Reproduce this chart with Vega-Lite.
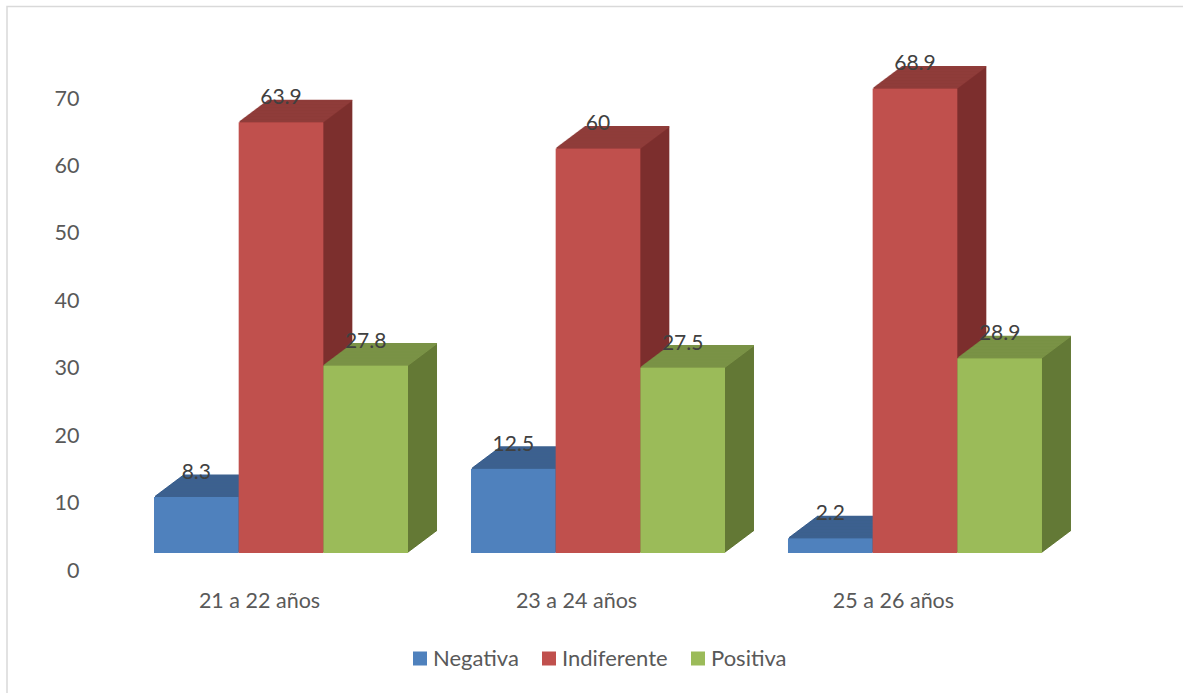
{"$schema":"https://vega.github.io/schema/vega-lite/v6.json","width":1177,"height":689,"autosize":"none","padding":{"left":7,"top":6.5,"right":0,"bottom":0},"background":"white","config":{"view":{"stroke":"#D9D9D9","strokeWidth":1.5},"font":"Lato"},"data":{"values":[{"grupo":"21 a 22 años","serie":"Negativa","valor":8.3},{"grupo":"21 a 22 años","serie":"Indiferente","valor":63.9},{"grupo":"21 a 22 años","serie":"Positiva","valor":27.8},{"grupo":"23 a 24 años","serie":"Negativa","valor":12.5},{"grupo":"23 a 24 años","serie":"Indiferente","valor":60},{"grupo":"23 a 24 años","serie":"Positiva","valor":27.5},{"grupo":"25 a 26 años","serie":"Negativa","valor":2.2},{"grupo":"25 a 26 años","serie":"Indiferente","valor":68.9},{"grupo":"25 a 26 años","serie":"Positiva","valor":28.9}]},"encoding":{"x":{"field":"grupo","type":"nominal","title":null,"scale":{"range":[115.5,1066.5],"paddingInner":0.1987,"paddingOuter":0.0994},"axis":{"orient":"bottom","offset":-105,"domain":false,"ticks":false,"labelAngle":0,"labelPadding":0,"labelOffset":-21.5,"labelFontSize":21.5,"labelColor":"#595959","labelBaseline":"top"}},"xOffset":{"field":"serie","type":"nominal","sort":["Negativa","Indiferente","Positiva"],"scale":{"paddingInner":0,"paddingOuter":0}},"y":{"field":"valor","type":"quantitative","stack":null,"title":null,"scale":{"domain":[0,70],"range":[546.5,74.5],"nice":false},"axis":{"orient":"left","offset":-72,"domain":false,"ticks":false,"grid":false,"values":[0,10,20,30,40,50,60,70],"labelPadding":0,"labelOffset":18,"labelFontSize":21.5,"labelColor":"#595959"}}},"resolve":{"scale":{"xOffset":"independent"}},"layer":[{"resolve":{"scale":{"xOffset":"independent"}},"encoding":{"y2":{"datum":0},"fill":{"field":"serie","type":"nominal","legend":null,"scale":{"domain":["Indiferente","Negativa","Positiva"],"range":["#7D2F2E","#335077","#647936"]}}},"layer":[
{"mark":{"type":"bar","yOffset":-21.75,"y2Offset":-21.75},"encoding":{"xOffset":{"field":"serie","sort":["Negativa","Indiferente","Positiva"],"scale":{"range":[29,283],"paddingInner":0,"paddingOuter":0}}}},
{"mark":{"type":"bar","yOffset":-21,"y2Offset":-21},"encoding":{"xOffset":{"field":"serie","sort":["Negativa","Indiferente","Positiva"],"scale":{"range":[28,282],"paddingInner":0,"paddingOuter":0}}}},
{"mark":{"type":"bar","yOffset":-20.25,"y2Offset":-20.25},"encoding":{"xOffset":{"field":"serie","sort":["Negativa","Indiferente","Positiva"],"scale":{"range":[27,281],"paddingInner":0,"paddingOuter":0}}}},
{"mark":{"type":"bar","yOffset":-19.5,"y2Offset":-19.5},"encoding":{"xOffset":{"field":"serie","sort":["Negativa","Indiferente","Positiva"],"scale":{"range":[26,280],"paddingInner":0,"paddingOuter":0}}}},
{"mark":{"type":"bar","yOffset":-18.75,"y2Offset":-18.75},"encoding":{"xOffset":{"field":"serie","sort":["Negativa","Indiferente","Positiva"],"scale":{"range":[25,279],"paddingInner":0,"paddingOuter":0}}}},
{"mark":{"type":"bar","yOffset":-18,"y2Offset":-18},"encoding":{"xOffset":{"field":"serie","sort":["Negativa","Indiferente","Positiva"],"scale":{"range":[24,278],"paddingInner":0,"paddingOuter":0}}}},
{"mark":{"type":"bar","yOffset":-17.25,"y2Offset":-17.25},"encoding":{"xOffset":{"field":"serie","sort":["Negativa","Indiferente","Positiva"],"scale":{"range":[23,277],"paddingInner":0,"paddingOuter":0}}}},
{"mark":{"type":"bar","yOffset":-16.5,"y2Offset":-16.5},"encoding":{"xOffset":{"field":"serie","sort":["Negativa","Indiferente","Positiva"],"scale":{"range":[22,276],"paddingInner":0,"paddingOuter":0}}}},
{"mark":{"type":"bar","yOffset":-15.75,"y2Offset":-15.75},"encoding":{"xOffset":{"field":"serie","sort":["Negativa","Indiferente","Positiva"],"scale":{"range":[21,275],"paddingInner":0,"paddingOuter":0}}}},
{"mark":{"type":"bar","yOffset":-15,"y2Offset":-15},"encoding":{"xOffset":{"field":"serie","sort":["Negativa","Indiferente","Positiva"],"scale":{"range":[20,274],"paddingInner":0,"paddingOuter":0}}}},
{"mark":{"type":"bar","yOffset":-14.25,"y2Offset":-14.25},"encoding":{"xOffset":{"field":"serie","sort":["Negativa","Indiferente","Positiva"],"scale":{"range":[19,273],"paddingInner":0,"paddingOuter":0}}}},
{"mark":{"type":"bar","yOffset":-13.5,"y2Offset":-13.5},"encoding":{"xOffset":{"field":"serie","sort":["Negativa","Indiferente","Positiva"],"scale":{"range":[18,272],"paddingInner":0,"paddingOuter":0}}}},
{"mark":{"type":"bar","yOffset":-12.75,"y2Offset":-12.75},"encoding":{"xOffset":{"field":"serie","sort":["Negativa","Indiferente","Positiva"],"scale":{"range":[17,271],"paddingInner":0,"paddingOuter":0}}}},
{"mark":{"type":"bar","yOffset":-12,"y2Offset":-12},"encoding":{"xOffset":{"field":"serie","sort":["Negativa","Indiferente","Positiva"],"scale":{"range":[16,270],"paddingInner":0,"paddingOuter":0}}}},
{"mark":{"type":"bar","yOffset":-11.25,"y2Offset":-11.25},"encoding":{"xOffset":{"field":"serie","sort":["Negativa","Indiferente","Positiva"],"scale":{"range":[15,269],"paddingInner":0,"paddingOuter":0}}}},
{"mark":{"type":"bar","yOffset":-10.5,"y2Offset":-10.5},"encoding":{"xOffset":{"field":"serie","sort":["Negativa","Indiferente","Positiva"],"scale":{"range":[14,268],"paddingInner":0,"paddingOuter":0}}}},
{"mark":{"type":"bar","yOffset":-9.75,"y2Offset":-9.75},"encoding":{"xOffset":{"field":"serie","sort":["Negativa","Indiferente","Positiva"],"scale":{"range":[13,267],"paddingInner":0,"paddingOuter":0}}}},
{"mark":{"type":"bar","yOffset":-9,"y2Offset":-9},"encoding":{"xOffset":{"field":"serie","sort":["Negativa","Indiferente","Positiva"],"scale":{"range":[12,266],"paddingInner":0,"paddingOuter":0}}}},
{"mark":{"type":"bar","yOffset":-8.25,"y2Offset":-8.25},"encoding":{"xOffset":{"field":"serie","sort":["Negativa","Indiferente","Positiva"],"scale":{"range":[11,265],"paddingInner":0,"paddingOuter":0}}}},
{"mark":{"type":"bar","yOffset":-7.5,"y2Offset":-7.5},"encoding":{"xOffset":{"field":"serie","sort":["Negativa","Indiferente","Positiva"],"scale":{"range":[10,264],"paddingInner":0,"paddingOuter":0}}}},
{"mark":{"type":"bar","yOffset":-6.75,"y2Offset":-6.75},"encoding":{"xOffset":{"field":"serie","sort":["Negativa","Indiferente","Positiva"],"scale":{"range":[9,263],"paddingInner":0,"paddingOuter":0}}}},
{"mark":{"type":"bar","yOffset":-6,"y2Offset":-6},"encoding":{"xOffset":{"field":"serie","sort":["Negativa","Indiferente","Positiva"],"scale":{"range":[8,262],"paddingInner":0,"paddingOuter":0}}}},
{"mark":{"type":"bar","yOffset":-5.25,"y2Offset":-5.25},"encoding":{"xOffset":{"field":"serie","sort":["Negativa","Indiferente","Positiva"],"scale":{"range":[7,261],"paddingInner":0,"paddingOuter":0}}}},
{"mark":{"type":"bar","yOffset":-4.5,"y2Offset":-4.5},"encoding":{"xOffset":{"field":"serie","sort":["Negativa","Indiferente","Positiva"],"scale":{"range":[6,260],"paddingInner":0,"paddingOuter":0}}}},
{"mark":{"type":"bar","yOffset":-3.75,"y2Offset":-3.75},"encoding":{"xOffset":{"field":"serie","sort":["Negativa","Indiferente","Positiva"],"scale":{"range":[5,259],"paddingInner":0,"paddingOuter":0}}}},
{"mark":{"type":"bar","yOffset":-3,"y2Offset":-3},"encoding":{"xOffset":{"field":"serie","sort":["Negativa","Indiferente","Positiva"],"scale":{"range":[4,258],"paddingInner":0,"paddingOuter":0}}}},
{"mark":{"type":"bar","yOffset":-2.25,"y2Offset":-2.25},"encoding":{"xOffset":{"field":"serie","sort":["Negativa","Indiferente","Positiva"],"scale":{"range":[3,257],"paddingInner":0,"paddingOuter":0}}}},
{"mark":{"type":"bar","yOffset":-1.5,"y2Offset":-1.5},"encoding":{"xOffset":{"field":"serie","sort":["Negativa","Indiferente","Positiva"],"scale":{"range":[2,256],"paddingInner":0,"paddingOuter":0}}}},
{"mark":{"type":"bar","yOffset":-0.75,"y2Offset":-0.75},"encoding":{"xOffset":{"field":"serie","sort":["Negativa","Indiferente","Positiva"],"scale":{"range":[1,255],"paddingInner":0,"paddingOuter":0}}}}
]},{"resolve":{"scale":{"xOffset":"independent"}},"encoding":{"y2":{"field":"valor"},"stroke":{"field":"serie","type":"nominal","legend":null,"scale":{"domain":["Positiva","Indiferente","Negativa"],"range":["#7A9246","#8F3C3A","#3C618F"]}}},"layer":[
{"mark":{"type":"bar","strokeWidth":1.4,"yOffset":-21.75,"y2Offset":-21.75},"encoding":{"xOffset":{"field":"serie","sort":["Negativa","Indiferente","Positiva"],"scale":{"range":[29,283],"paddingInner":0,"paddingOuter":0}}}},
{"mark":{"type":"bar","strokeWidth":1.4,"yOffset":-21,"y2Offset":-21},"encoding":{"xOffset":{"field":"serie","sort":["Negativa","Indiferente","Positiva"],"scale":{"range":[28,282],"paddingInner":0,"paddingOuter":0}}}},
{"mark":{"type":"bar","strokeWidth":1.4,"yOffset":-20.25,"y2Offset":-20.25},"encoding":{"xOffset":{"field":"serie","sort":["Negativa","Indiferente","Positiva"],"scale":{"range":[27,281],"paddingInner":0,"paddingOuter":0}}}},
{"mark":{"type":"bar","strokeWidth":1.4,"yOffset":-19.5,"y2Offset":-19.5},"encoding":{"xOffset":{"field":"serie","sort":["Negativa","Indiferente","Positiva"],"scale":{"range":[26,280],"paddingInner":0,"paddingOuter":0}}}},
{"mark":{"type":"bar","strokeWidth":1.4,"yOffset":-18.75,"y2Offset":-18.75},"encoding":{"xOffset":{"field":"serie","sort":["Negativa","Indiferente","Positiva"],"scale":{"range":[25,279],"paddingInner":0,"paddingOuter":0}}}},
{"mark":{"type":"bar","strokeWidth":1.4,"yOffset":-18,"y2Offset":-18},"encoding":{"xOffset":{"field":"serie","sort":["Negativa","Indiferente","Positiva"],"scale":{"range":[24,278],"paddingInner":0,"paddingOuter":0}}}},
{"mark":{"type":"bar","strokeWidth":1.4,"yOffset":-17.25,"y2Offset":-17.25},"encoding":{"xOffset":{"field":"serie","sort":["Negativa","Indiferente","Positiva"],"scale":{"range":[23,277],"paddingInner":0,"paddingOuter":0}}}},
{"mark":{"type":"bar","strokeWidth":1.4,"yOffset":-16.5,"y2Offset":-16.5},"encoding":{"xOffset":{"field":"serie","sort":["Negativa","Indiferente","Positiva"],"scale":{"range":[22,276],"paddingInner":0,"paddingOuter":0}}}},
{"mark":{"type":"bar","strokeWidth":1.4,"yOffset":-15.75,"y2Offset":-15.75},"encoding":{"xOffset":{"field":"serie","sort":["Negativa","Indiferente","Positiva"],"scale":{"range":[21,275],"paddingInner":0,"paddingOuter":0}}}},
{"mark":{"type":"bar","strokeWidth":1.4,"yOffset":-15,"y2Offset":-15},"encoding":{"xOffset":{"field":"serie","sort":["Negativa","Indiferente","Positiva"],"scale":{"range":[20,274],"paddingInner":0,"paddingOuter":0}}}},
{"mark":{"type":"bar","strokeWidth":1.4,"yOffset":-14.25,"y2Offset":-14.25},"encoding":{"xOffset":{"field":"serie","sort":["Negativa","Indiferente","Positiva"],"scale":{"range":[19,273],"paddingInner":0,"paddingOuter":0}}}},
{"mark":{"type":"bar","strokeWidth":1.4,"yOffset":-13.5,"y2Offset":-13.5},"encoding":{"xOffset":{"field":"serie","sort":["Negativa","Indiferente","Positiva"],"scale":{"range":[18,272],"paddingInner":0,"paddingOuter":0}}}},
{"mark":{"type":"bar","strokeWidth":1.4,"yOffset":-12.75,"y2Offset":-12.75},"encoding":{"xOffset":{"field":"serie","sort":["Negativa","Indiferente","Positiva"],"scale":{"range":[17,271],"paddingInner":0,"paddingOuter":0}}}},
{"mark":{"type":"bar","strokeWidth":1.4,"yOffset":-12,"y2Offset":-12},"encoding":{"xOffset":{"field":"serie","sort":["Negativa","Indiferente","Positiva"],"scale":{"range":[16,270],"paddingInner":0,"paddingOuter":0}}}},
{"mark":{"type":"bar","strokeWidth":1.4,"yOffset":-11.25,"y2Offset":-11.25},"encoding":{"xOffset":{"field":"serie","sort":["Negativa","Indiferente","Positiva"],"scale":{"range":[15,269],"paddingInner":0,"paddingOuter":0}}}},
{"mark":{"type":"bar","strokeWidth":1.4,"yOffset":-10.5,"y2Offset":-10.5},"encoding":{"xOffset":{"field":"serie","sort":["Negativa","Indiferente","Positiva"],"scale":{"range":[14,268],"paddingInner":0,"paddingOuter":0}}}},
{"mark":{"type":"bar","strokeWidth":1.4,"yOffset":-9.75,"y2Offset":-9.75},"encoding":{"xOffset":{"field":"serie","sort":["Negativa","Indiferente","Positiva"],"scale":{"range":[13,267],"paddingInner":0,"paddingOuter":0}}}},
{"mark":{"type":"bar","strokeWidth":1.4,"yOffset":-9,"y2Offset":-9},"encoding":{"xOffset":{"field":"serie","sort":["Negativa","Indiferente","Positiva"],"scale":{"range":[12,266],"paddingInner":0,"paddingOuter":0}}}},
{"mark":{"type":"bar","strokeWidth":1.4,"yOffset":-8.25,"y2Offset":-8.25},"encoding":{"xOffset":{"field":"serie","sort":["Negativa","Indiferente","Positiva"],"scale":{"range":[11,265],"paddingInner":0,"paddingOuter":0}}}},
{"mark":{"type":"bar","strokeWidth":1.4,"yOffset":-7.5,"y2Offset":-7.5},"encoding":{"xOffset":{"field":"serie","sort":["Negativa","Indiferente","Positiva"],"scale":{"range":[10,264],"paddingInner":0,"paddingOuter":0}}}},
{"mark":{"type":"bar","strokeWidth":1.4,"yOffset":-6.75,"y2Offset":-6.75},"encoding":{"xOffset":{"field":"serie","sort":["Negativa","Indiferente","Positiva"],"scale":{"range":[9,263],"paddingInner":0,"paddingOuter":0}}}},
{"mark":{"type":"bar","strokeWidth":1.4,"yOffset":-6,"y2Offset":-6},"encoding":{"xOffset":{"field":"serie","sort":["Negativa","Indiferente","Positiva"],"scale":{"range":[8,262],"paddingInner":0,"paddingOuter":0}}}},
{"mark":{"type":"bar","strokeWidth":1.4,"yOffset":-5.25,"y2Offset":-5.25},"encoding":{"xOffset":{"field":"serie","sort":["Negativa","Indiferente","Positiva"],"scale":{"range":[7,261],"paddingInner":0,"paddingOuter":0}}}},
{"mark":{"type":"bar","strokeWidth":1.4,"yOffset":-4.5,"y2Offset":-4.5},"encoding":{"xOffset":{"field":"serie","sort":["Negativa","Indiferente","Positiva"],"scale":{"range":[6,260],"paddingInner":0,"paddingOuter":0}}}},
{"mark":{"type":"bar","strokeWidth":1.4,"yOffset":-3.75,"y2Offset":-3.75},"encoding":{"xOffset":{"field":"serie","sort":["Negativa","Indiferente","Positiva"],"scale":{"range":[5,259],"paddingInner":0,"paddingOuter":0}}}},
{"mark":{"type":"bar","strokeWidth":1.4,"yOffset":-3,"y2Offset":-3},"encoding":{"xOffset":{"field":"serie","sort":["Negativa","Indiferente","Positiva"],"scale":{"range":[4,258],"paddingInner":0,"paddingOuter":0}}}},
{"mark":{"type":"bar","strokeWidth":1.4,"yOffset":-2.25,"y2Offset":-2.25},"encoding":{"xOffset":{"field":"serie","sort":["Negativa","Indiferente","Positiva"],"scale":{"range":[3,257],"paddingInner":0,"paddingOuter":0}}}},
{"mark":{"type":"bar","strokeWidth":1.4,"yOffset":-1.5,"y2Offset":-1.5},"encoding":{"xOffset":{"field":"serie","sort":["Negativa","Indiferente","Positiva"],"scale":{"range":[2,256],"paddingInner":0,"paddingOuter":0}}}},
{"mark":{"type":"bar","strokeWidth":1.4,"yOffset":-0.75,"y2Offset":-0.75},"encoding":{"xOffset":{"field":"serie","sort":["Negativa","Indiferente","Positiva"],"scale":{"range":[1,255],"paddingInner":0,"paddingOuter":0}}}}
]},{"mark":{"type":"bar"},"encoding":{"y2":{"datum":0},"color":{"field":"serie","type":"nominal","title":null,"sort":["Negativa","Indiferente","Positiva"],"scale":{"domain":["Negativa","Indiferente","Positiva"],"range":["#4F81BD","#C0504D","#9BBB59"]},"legend":{"orient":"none","legendX":402,"legendY":641,"direction":"horizontal","columns":3,"symbolType":"square","symbolSize":196,"labelFontSize":22,"labelColor":"#595959","labelOffset":2,"columnPadding":19}}}},{"mark":{"type":"text","dy":-24,"baseline":"middle","align":"center","fontSize":21,"color":"#404040"},"encoding":{"xOffset":{"field":"serie","sort":["Negativa","Indiferente","Positiva"],"bandPosition":0.5,"scale":{"type":"band","range":[0,254],"paddingInner":0,"paddingOuter":0}},"text":{"field":"valor","type":"quantitative"}}}]}
